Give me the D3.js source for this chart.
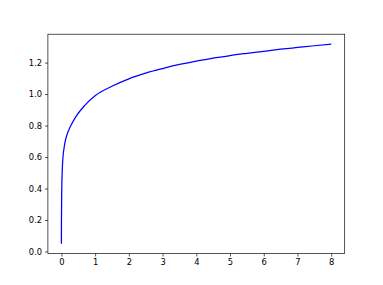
<!DOCTYPE html>
<html>
<head>
<meta charset="utf-8">
<style>
  body { margin: 0; background: #fff; }
  svg text { font-family: "DejaVu Sans", sans-serif; }
</style>
</head>
<body>
<div id="chart"></div>
<script src="https://d3js.org/d3.v7.min.js"></script>
<script>
  // values
  const xs = [0, 0.002, 0.009, 0.04, 0.1, 0.18, 0.27, 0.44, 0.7, 1.0, 1.5, 2.0, 2.5, 3.0, 3.5, 4.0, 4.5, 5.0, 5.5, 6.0, 6.5, 7.0, 7.5, 8.0];
  const ys = [0.05, 0.2, 0.37, 0.58, 0.685, 0.75, 0.795, 0.86, 0.93, 0.99, 1.05, 1.097, 1.133, 1.162, 1.188, 1.21, 1.228, 1.245, 1.259, 1.272, 1.285, 1.296, 1.307, 1.317];
  const xTicks = [0, 1, 2, 3, 4, 5, 6, 7, 8];
  const yTicks = [0.0, 0.2, 0.4, 0.6, 0.8, 1.0, 1.2];

  const data = xs.map((x, i) => ({ x: x, y: ys[i] }));

  const W = 383, H = 285;
  const margin = { top: 34.2, right: 38.3, bottom: 31.4, left: 47.9 },
        width = W - margin.left - margin.right,
        height = H - margin.top - margin.bottom;

  const svg = d3.select("#chart").append("svg")
    .attr("width", W)
    .attr("height", H)
   .append("g")
    .attr("transform", `translate(${margin.left},${margin.top})`);

  // matplotlib style 5% margins
  const xMin = d3.min(xs), xMax = d3.max(xs), yMin = d3.min(ys), yMax = d3.max(ys);
  const xPad = (xMax - xMin) * 0.05, yPad = (yMax - yMin) * 0.05;
  const x = d3.scaleLinear().domain([xMin - xPad, xMax + xPad]).range([0, width]);
  const y = d3.scaleLinear().domain([yMin - yPad, yMax + yPad]).range([height, 0]);

  const xAxis = svg.append("g").attr("transform", `translate(0,${height})`)
    .call(d3.axisBottom(x).tickValues(xTicks).tickFormat(d3.format("d")).tickSize(2.9).tickPadding(2.9));
  const yAxis = svg.append("g")
    .call(d3.axisLeft(y).tickValues(yTicks).tickFormat(d3.format(".1f")).tickSize(2.9).tickPadding(2.9));

  [xAxis, yAxis].forEach(a => {
    a.select(".domain").remove();
    a.selectAll("line").attr("stroke", "#000").attr("stroke-width", 0.67);
    a.selectAll("text").attr("fill", "#000").style("font-size", "8.33px");
  });

  svg.append("path")
    .datum(data)
    .attr("fill", "none")
    .attr("stroke", "#0000ff")
    .attr("stroke-width", 1.25)
    .attr("d", d3.line().curve(d3.curveMonotoneX).x(d => x(d.x)).y(d => y(d.y)));

  svg.append("rect")
    .attr("width", width)
    .attr("height", height)
    .attr("fill", "none")
    .attr("stroke", "#000")
    .attr("stroke-width", 0.67);
</script>
</body>
</html>
